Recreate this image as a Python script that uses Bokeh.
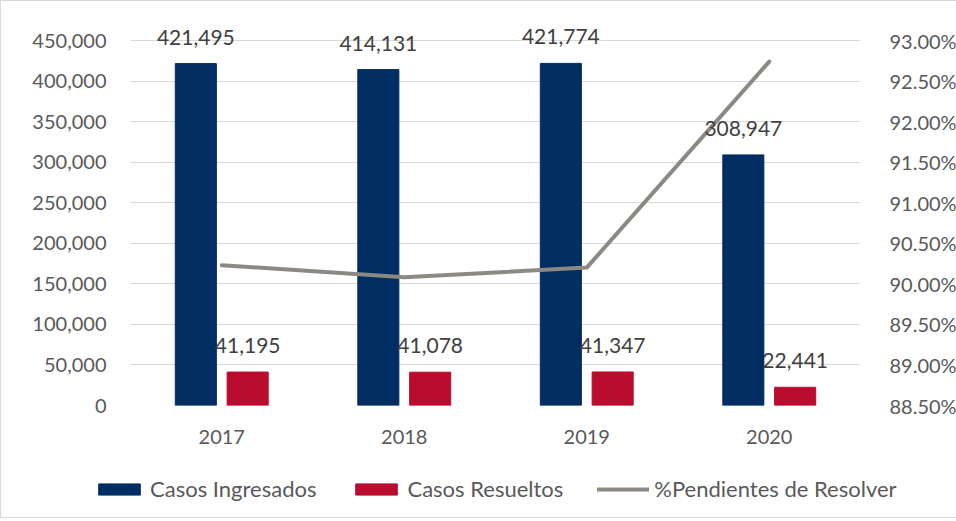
from bokeh.plotting import figure
from bokeh.layouts import column
from bokeh.models import (ColumnDataSource, Range1d, LinearAxis, NumeralTickFormatter,
                          PrintfTickFormatter, FixedTicker, Legend, LegendItem, FactorRange,
                          LabelSet)
from bokeh.transform import dodge
from bokeh.core.properties import value
from bokeh.embed import file_html
from bokeh.resources import INLINE

years = ["2017", "2018", "2019", "2020"]
ingresados = [421495, 414131, 421774, 308947]
resueltos = [41195, 41078, 41347, 22441]
pendientes = [90.23, 90.08, 90.20, 92.74]
left_ticks = [0, 50000, 100000, 150000, 200000, 250000, 300000, 350000, 400000, 450000]
right_ticks = [88.5, 89.0, 89.5, 90.0, 90.5, 91.0, 91.5, 92.0, 92.5, 93.0]
series_names = ["Casos Ingresados", "Casos Resueltos", "%Pendientes de Resolver"]

NAVY = "#002D62"
RED = "#BA0C2F"
GRAY = "#8C8984"
FONT = "Lato"
FS = "20px"

# frame: grid area is 365px tall, with 25px extra headroom for the labels
GRID_H, HEAD = 365, 25
scale = (GRID_H + HEAD) / GRID_H
y_top = left_ticks[-1] * scale
r_top = right_ticks[0] + (right_ticks[-1] - right_ticks[0]) * scale

src = ColumnDataSource(dict(
    year=years, ing=ingresados, res=resueltos, pend=pendientes,
    ing_lbl=[f"{v:,}" for v in ingresados],
    res_lbl=[f"{v:,}" for v in resueltos],
))

p = figure(x_range=FactorRange(*years), y_range=Range1d(left_ticks[0], y_top),
           frame_width=730, frame_height=GRID_H + HEAD,
           min_border_left=129, min_border_right=88, min_border_top=14, min_border_bottom=50,
           output_backend="svg", toolbar_location=None)
p.extra_y_ranges = {"pct": Range1d(right_ticks[0], r_top)}

b1 = p.vbar(x=dodge("year", -0.142, range=p.x_range), top="ing", width=0.225,
            color=NAVY, source=src)
b2 = p.vbar(x=dodge("year", 0.142, range=p.x_range), top="res", width=0.225,
            color=RED, source=src)
ln = p.line(x="year", y="pend", y_range_name="pct", line_color=GRAY, line_width=4,
            line_cap="round", line_join="round", source=src)

for xo, col, lcol in [(-0.142, "ing", "ing_lbl"), (0.142, "res", "res_lbl")]:
    p.add_layout(LabelSet(x=dodge("year", xo, range=p.x_range), y=col, text=lcol, source=src,
                          text_align="center", text_baseline="bottom", y_offset=19,
                          text_font=value(FONT), text_font_size="21px", text_color="#404040"))

p.yaxis.ticker = FixedTicker(ticks=left_ticks)
p.yaxis.formatter = NumeralTickFormatter(format="0,0")
ax_r = LinearAxis(y_range_name="pct", ticker=FixedTicker(ticks=right_ticks),
                  formatter=PrintfTickFormatter(format="%.2f%%"))
p.add_layout(ax_r, "right")

for ax in [p.yaxis[0], ax_r, p.xaxis[0]]:
    ax.axis_line_color = None
    ax.major_tick_line_color = None
    ax.minor_tick_line_color = None
    ax.major_label_text_font = FONT
    ax.major_label_text_font_size = FS
    ax.major_label_text_color = "#595959"
    ax.major_label_standoff = 18
ax_r.major_label_standoff = 23

p.xgrid.grid_line_color = None
p.ygrid.grid_line_color = "#D9D9D9"
p.ygrid.ticker = FixedTicker(ticks=left_ticks)
p.outline_line_color = None

# legend strip
lg = figure(width=940, height=62, x_range=Range1d(0, 1), y_range=Range1d(0, 1),
            min_border=0, output_backend="svg", toolbar_location=None)
lg.frame_align = False
lg.axis.visible = False
lg.grid.grid_line_color = None
lg.outline_line_color = None
d1 = lg.rect(x=[5], y=[5], width=1, height=1, color=NAVY)
d2 = lg.rect(x=[5], y=[5], width=1, height=1, color=RED)
d3 = lg.line(x=[5, 6], y=[5, 5], line_color=GRAY, line_width=4, line_cap="round")
legend = Legend(items=[
    LegendItem(label=series_names[0], renderers=[d1]),
    LegendItem(label=series_names[1], renderers=[d2]),
    LegendItem(label=series_names[2], renderers=[d3]),
], orientation="horizontal", location=(92, 15),
    label_text_font=FONT, label_text_font_size="22px", label_text_color="#595959",
    glyph_width=52, glyph_height=14, label_standoff=5, spacing=34,
    border_line_color=None, background_fill_alpha=0, padding=0, margin=0)
lg.add_layout(legend, "center")

layout = column(p, lg, spacing=0)
layout.styles = {"border": "1px solid #D9D9D9"}

open("out.html", "w").write(file_html(layout, INLINE))
